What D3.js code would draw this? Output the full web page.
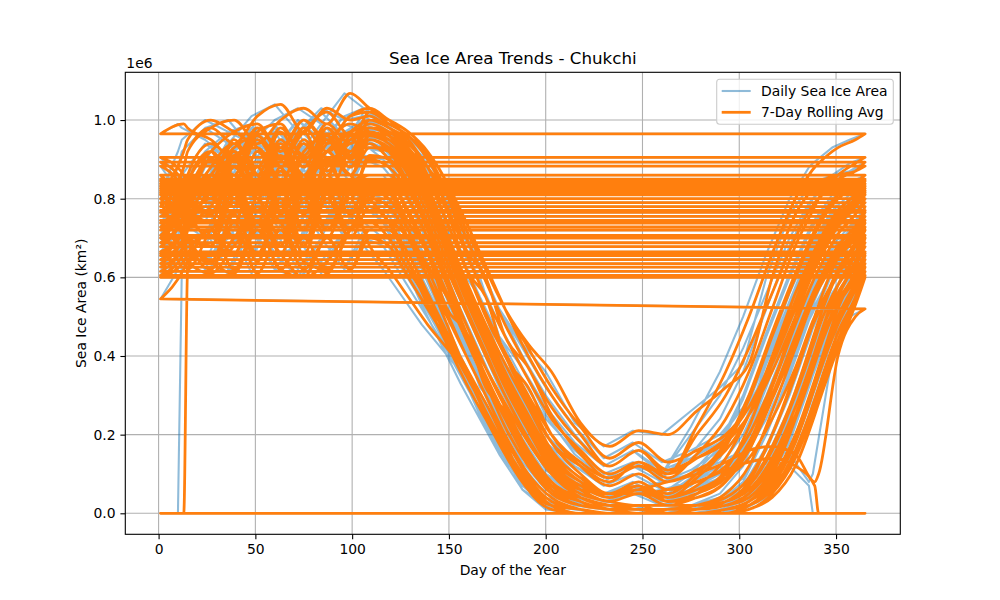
<!DOCTYPE html>
<html>
<head>
<meta charset="utf-8">
<script src="https://cdn.jsdelivr.net/npm/d3@7"></script>
<style>
  body { margin: 0; background: #fff; }
  text { font-family: "DejaVu Sans", sans-serif; fill: #000; }
</style>
</head>
<body>
<svg id="chart" width="1000" height="600"></svg>
<script>
// day-of-year sample points (same grid for every year)
const knotDays = [1, 10, 12, 24, 36, 48, 60, 72, 84, 96, 106,
  116, 126, 136, 146, 156, 166, 176, 188, 200,
  215, 230, 245, 260,
  275, 290, 302, 314, 326, 336, 338, 348, 357, 365];

const years = [1983, 1984, 1985, 1986, 1987, 1988, 1989, 1990, 1991, 1992,
  1993, 1994, 1995, 1996, 1997, 1998, 1999, 2000, 2001, 2002,
  2003, 2004, 2005, 2006, 2007, 2008, 2009, 2010, 2011, 2012,
  2013, 2014, 2015, 2016, 2017, 2018, 2019, 2020, 2021, 2022];

// daily sea ice area, units of 1e6 km², one row per year
const dailyArea = [
  [0.80, 0.76, 0.78, 0.90, 0.84, 0.95, 0.88, 0.97, 0.86, 0.96, 0.97, 0.95, 0.90, 0.82, 0.70, 0.58, 0.47, 0.36, 0.25, 0.15, 0.08, 0.04, 0.07, 0.03, 0.04, 0.08, 0.17, 0.32, 0.50, 0.63, 0.65, 0.74, 0.80, 0.845],
  [0.845, 0.78, 0.80, 0.76, 0.90, 0.80, 0.93, 0.82, 0.95, 0.86, 0.95, 0.92, 0.84, 0.72, 0.58, 0.46, 0.34, 0.24, 0.13, 0.06, 0.03, 0.01, 0.02, 0.0, 0.01, 0.03, 0.08, 0.20, 0.36, 0.50, 0.53, 0.65, 0.72, 0.78],
  [0.78, 0.88, 0.92, 0.98, 1.0, 0.93, 0.90, 0.97, 1.02, 0.96, 0.99, 0.97, 0.93, 0.86, 0.74, 0.62, 0.50, 0.40, 0.28, 0.18, 0.12, 0.08, 0.13, 0.10, 0.20, 0.30, 0.42, 0.56, 0.70, 0.79, 0.80, 0.85, 0.87, 0.893],
  [0.893, 0.84, 0.80, 0.76, 0.86, 0.70, 0.84, 0.68, 0.86, 0.76, 0.85, 0.82, 0.72, 0.60, 0.48, 0.36, 0.25, 0.15, 0.06, 0.02, 0.01, 0.0, 0.0, 0.0, 0.0, 0.01, 0.03, 0.10, 0.24, 0.40, 0.43, 0.58, 0.66, 0.72],
  [0.72, 0.80, 0.84, 0.92, 0.86, 0.96, 0.90, 0.98, 0.92, 0.97, 1.0, 0.99, 0.96, 0.91, 0.82, 0.72, 0.62, 0.52, 0.42, 0.32, 0.22, 0.14, 0.18, 0.13, 0.16, 0.20, 0.27, 0.38, 0.52, 0.63, 0.65, 0.74, 0.79, 0.826],
  [0.826, 0.72, 0.70, 0.64, 0.70, 0.78, 0.74, 0.64, 0.62, 0.72, 0.80, 0.82, 0.74, 0.66, 0.52, 0.46, 0.32, 0.26, 0.14, 0.07, 0.04, 0.02, 0.01, 0.01, 0.01, 0.02, 0.05, 0.12, 0.25, 0.38, 0.41, 0.53, 0.60, 0.665],
  [0.665, 0.72, 0.76, 0.74, 0.88, 0.80, 0.94, 0.84, 0.98, 0.90, 0.96, 0.95, 0.91, 0.83, 0.71, 0.59, 0.48, 0.38, 0.27, 0.16, 0.09, 0.05, 0.08, 0.04, 0.06, 0.10, 0.18, 0.32, 0.48, 0.60, 0.62, 0.71, 0.76, 0.80],
  [0.80, 0.88, 0.92, 0.98, 0.94, 1.01, 1.04, 0.97, 1.03, 1.0, 1.01, 0.98, 0.94, 0.88, 0.78, 0.66, 0.55, 0.45, 0.34, 0.24, 0.16, 0.10, 0.13, 0.09, 0.15, 0.24, 0.36, 0.52, 0.68, 0.78, 0.80, 0.86, 0.89, 0.905],
  [0.905, 0.86, 0.82, 0.92, 0.80, 0.88, 0.76, 0.86, 0.72, 0.80, 0.68, 0.62, 0.55, 0.48, 0.42, 0.36, 0.28, 0.18, 0.06, 0.01, 0.0, 0.0, 0.0, 0.01, 0.02, 0.05, 0.12, 0.26, 0.42, 0.55, 0.57, 0.66, 0.71, 0.755],
  [0.755, 0.82, 0.86, 0.80, 0.91, 0.83, 0.94, 0.85, 0.95, 0.88, 0.96, 0.94, 0.89, 0.80, 0.68, 0.56, 0.45, 0.34, 0.22, 0.12, 0.06, 0.03, 0.05, 0.04, 0.07, 0.14, 0.25, 0.40, 0.56, 0.67, 0.69, 0.77, 0.81, 0.838],
  [0.838, 0.78, 0.74, 0.82, 0.70, 0.78, 0.66, 0.80, 0.70, 0.82, 0.84, 0.84, 0.76, 0.66, 0.55, 0.44, 0.33, 0.22, 0.12, 0.05, 0.02, 0.01, 0.0, 0.0, 0.0, 0.01, 0.03, 0.09, 0.20, 0.34, 0.37, 0.52, 0.62, 0.70],
  [0.70, 0.78, 0.82, 0.86, 0.94, 0.88, 0.98, 0.91, 0.99, 0.94, 1.02, 1.0, 0.97, 0.92, 0.84, 0.74, 0.63, 0.52, 0.40, 0.30, 0.20, 0.12, 0.16, 0.11, 0.14, 0.18, 0.25, 0.36, 0.50, 0.62, 0.64, 0.73, 0.78, 0.815],
  [0.815, 0.92, 0.95, 1.0, 0.97, 0.94, 1.0, 1.03, 0.99, 1.068, 1.03, 1.0, 0.95, 0.86, 0.74, 0.62, 0.51, 0.41, 0.30, 0.20, 0.13, 0.09, 0.12, 0.10, 0.22, 0.36, 0.50, 0.66, 0.80, 0.88, 0.89, 0.93, 0.95, 0.965],
  [0.965, 0.99, 0.98, 0.95, 0.90, 0.97, 0.99, 0.90, 0.96, 0.90, 0.94, 0.90, 0.83, 0.72, 0.60, 0.48, 0.37, 0.27, 0.16, 0.08, 0.04, 0.02, 0.01, 0.01, 0.02, 0.04, 0.09, 0.20, 0.35, 0.49, 0.51, 0.62, 0.69, 0.745],
  [0.745, 0.68, 0.72, 0.78, 0.88, 0.80, 0.91, 0.82, 0.92, 0.86, 0.93, 0.93, 0.88, 0.79, 0.67, 0.55, 0.44, 0.33, 0.22, 0.12, 0.07, 0.04, 0.06, 0.05, 0.10, 0.18, 0.30, 0.46, 0.61, 0.72, 0.74, 0.81, 0.84, 0.86],
  [0.86, 0.76, 0.70, 0.62, 0.74, 0.61, 0.72, 0.62, 0.70, 0.62, 0.70, 0.68, 0.60, 0.52, 0.44, 0.35, 0.26, 0.17, 0.08, 0.02, 0.01, 0.0, 0.0, 0.0, 0.0, 0.0, 0.02, 0.07, 0.18, 0.32, 0.35, 0.48, 0.57, 0.635],
  [0.635, 0.70, 0.76, 0.88, 0.94, 0.86, 0.82, 0.92, 0.96, 0.90, 0.98, 0.97, 0.93, 0.84, 0.77, 0.62, 0.55, 0.40, 0.32, 0.20, 0.12, 0.07, 0.10, 0.06, 0.08, 0.12, 0.20, 0.33, 0.48, 0.60, 0.62, 0.71, 0.76, 0.79],
  [0.79, 0.72, 0.74, 0.70, 0.86, 0.74, 0.88, 0.72, 0.90, 0.80, 0.90, 0.88, 0.82, 0.73, 0.62, 0.51, 0.40, 0.30, 0.19, 0.10, 0.04, 0.02, 0.01, 0.01, 0.01, 0.02, 0.04, 0.11, 0.24, 0.38, 0.41, 0.55, 0.64, 0.707],
  [0.707, 0.80, 0.86, 0.94, 0.90, 0.98, 0.93, 1.0, 0.95, 1.01, 1.03, 1.0, 0.97, 0.92, 0.84, 0.72, 0.62, 0.52, 0.43, 0.36, 0.23, 0.17, 0.21, 0.20, 0.26, 0.32, 0.38, 0.60, 0.76, 0.83, 0.84, 0.86, 0.87, 0.883],
  [0.883, 0.82, 0.78, 0.70, 0.82, 0.70, 0.80, 0.68, 0.82, 0.72, 0.82, 0.80, 0.72, 0.62, 0.51, 0.40, 0.30, 0.20, 0.10, 0.04, 0.01, 0.0, 0.0, 0.0, 0.01, 0.02, 0.05, 0.13, 0.27, 0.41, 0.44, 0.58, 0.66, 0.728],
  [0.728, 0.82, 0.86, 0.84, 0.95, 0.86, 0.97, 0.88, 0.98, 0.91, 0.98, 0.96, 0.91, 0.82, 0.70, 0.58, 0.46, 0.35, 0.24, 0.13, 0.06, 0.03, 0.05, 0.02, 0.05, 0.11, 0.22, 0.38, 0.54, 0.65, 0.67, 0.75, 0.79, 0.82],
  [0.82, 0.70, 0.64, 0.61, 0.68, 0.74, 0.66, 0.60, 0.64, 0.72, 0.74, 0.70, 0.62, 0.54, 0.45, 0.36, 0.26, 0.16, 0.07, 0.02, 0.01, 0.0, 0.0, 0.0, 0.0, 0.01, 0.02, 0.08, 0.19, 0.33, 0.36, 0.50, 0.59, 0.655],
  [0.655, 0.72, 0.76, 0.86, 0.78, 0.92, 0.84, 0.94, 0.86, 0.95, 0.96, 0.94, 0.88, 0.79, 0.67, 0.55, 0.44, 0.33, 0.22, 0.12, 0.07, 0.04, 0.06, 0.03, 0.05, 0.09, 0.17, 0.30, 0.45, 0.57, 0.59, 0.68, 0.73, 0.77],
  [0.77, 0.70, 0.66, 0.64, 0.76, 0.66, 0.78, 0.68, 0.80, 0.72, 0.84, 0.84, 0.77, 0.67, 0.56, 0.45, 0.35, 0.25, 0.15, 0.07, 0.03, 0.01, 0.0, 0.0, 0.0, 0.01, 0.02, 0.06, 0.15, 0.28, 0.31, 0.44, 0.53, 0.60],
  [0.60, 0.64, 0.66, 0.72, 0.62, 0.74, 0.62, 0.70, 0.61, 0.72, 0.74, 0.74, 0.70, 0.63, 0.55, 0.46, 0.37, 0.28, 0.18, 0.10, 0.06, 0.05, 0.06, 0.08, 0.10, 0.13, 0.16, 0.17, 0.15, 0.08, 0.10, 0.40, 0.50, 0.52],
  [0.545, 0.62, 0.64, 0.72, 0.66, 0.80, 0.70, 0.84, 0.72, 0.84, 0.86, 0.86, 0.80, 0.70, 0.58, 0.46, 0.35, 0.25, 0.14, 0.06, 0.02, 0.01, 0.0, 0.0, 0.01, 0.03, 0.07, 0.16, 0.30, 0.44, 0.47, 0.58, 0.64, 0.688],
  [0.688, 0.76, 0.80, 0.84, 0.94, 0.86, 0.97, 0.88, 0.98, 0.92, 1.0, 0.98, 0.95, 0.88, 0.81, 0.67, 0.60, 0.45, 0.37, 0.25, 0.15, 0.09, 0.12, 0.08, 0.11, 0.16, 0.25, 0.39, 0.54, 0.66, 0.68, 0.76, 0.80, 0.832],
  [0.832, 0.76, 0.78, 0.84, 0.88, 0.80, 0.74, 0.82, 0.90, 0.86, 0.80, 0.74, 0.64, 0.53, 0.43, 0.33, 0.24, 0.15, 0.06, 0.02, 0.0, 0.0, 0.0, 0.0, 0.0, 0.0, 0.01, 0.05, 0.14, 0.27, 0.30, 0.44, 0.55, 0.626],
  [0.626, 0.68, 0.72, 0.84, 0.78, 0.92, 0.84, 0.95, 0.87, 0.95, 0.97, 0.95, 0.90, 0.81, 0.69, 0.57, 0.46, 0.35, 0.23, 0.13, 0.06, 0.03, 0.05, 0.02, 0.04, 0.08, 0.16, 0.29, 0.44, 0.56, 0.58, 0.67, 0.72, 0.765],
  [0.765, 0.82, 0.84, 0.82, 0.92, 0.84, 0.95, 0.86, 0.96, 0.88, 0.95, 0.93, 0.88, 0.79, 0.68, 0.56, 0.45, 0.34, 0.23, 0.13, 0.07, 0.05, 0.05, 0.06, 0.08, 0.11, 0.13, 0.14, 0.12, 0.07, 0.0, 0.0, 0.0, 0.0],
  [0.0, 0.0, 0.62, 0.72, 0.66, 0.78, 0.68, 0.82, 0.72, 0.82, 0.86, 0.86, 0.80, 0.70, 0.59, 0.48, 0.37, 0.27, 0.16, 0.08, 0.03, 0.01, 0.01, 0.0, 0.01, 0.03, 0.07, 0.17, 0.31, 0.46, 0.49, 0.61, 0.68, 0.738],
  [0.738, 0.80, 0.84, 0.92, 0.97, 0.99, 0.90, 0.86, 0.94, 0.99, 0.97, 0.96, 0.92, 0.85, 0.74, 0.62, 0.51, 0.40, 0.29, 0.18, 0.10, 0.05, 0.08, 0.04, 0.09, 0.17, 0.29, 0.45, 0.60, 0.71, 0.73, 0.80, 0.83, 0.85],
  [0.85, 0.74, 0.70, 0.64, 0.61, 0.72, 0.62, 0.60, 0.70, 0.62, 0.72, 0.72, 0.64, 0.55, 0.46, 0.37, 0.28, 0.19, 0.09, 0.03, 0.01, 0.0, 0.0, 0.0, 0.0, 0.0, 0.02, 0.06, 0.16, 0.29, 0.32, 0.46, 0.55, 0.615],
  [0.615, 0.68, 0.72, 0.80, 0.74, 0.88, 0.78, 0.90, 0.80, 0.92, 0.93, 0.92, 0.86, 0.76, 0.64, 0.52, 0.41, 0.30, 0.19, 0.10, 0.05, 0.03, 0.02, 0.02, 0.02, 0.03, 0.06, 0.14, 0.27, 0.41, 0.44, 0.56, 0.63, 0.678],
  [0.678, 0.76, 0.80, 0.90, 0.86, 0.98, 0.92, 1.0, 0.94, 1.01, 1.02, 0.99, 0.96, 0.90, 0.81, 0.70, 0.59, 0.48, 0.37, 0.27, 0.18, 0.12, 0.16, 0.10, 0.14, 0.19, 0.27, 0.39, 0.53, 0.64, 0.66, 0.74, 0.78, 0.81],
  [0.81, 0.74, 0.70, 0.68, 0.80, 0.70, 0.82, 0.72, 0.86, 0.76, 0.80, 0.78, 0.70, 0.60, 0.50, 0.40, 0.30, 0.20, 0.10, 0.04, 0.01, 0.0, 0.0, 0.0, 0.0, 0.01, 0.03, 0.08, 0.19, 0.32, 0.35, 0.49, 0.58, 0.645],
  [0.645, 0.70, 0.74, 0.84, 0.91, 0.93, 0.84, 0.80, 0.88, 0.94, 0.95, 0.93, 0.87, 0.78, 0.66, 0.54, 0.43, 0.32, 0.21, 0.11, 0.06, 0.03, 0.05, 0.04, 0.06, 0.09, 0.14, 0.24, 0.37, 0.50, 0.52, 0.61, 0.66, 0.70],
  [0.70, 0.64, 0.62, 0.72, 0.76, 0.64, 0.78, 0.66, 0.80, 0.70, 0.78, 0.74, 0.66, 0.56, 0.46, 0.36, 0.26, 0.17, 0.08, 0.02, 0.0, 0.0, 0.0, 0.0, 0.0, 0.0, 0.01, 0.04, 0.12, 0.25, 0.28, 0.42, 0.53, 0.605],
  [0.605, 0.66, 0.70, 0.70, 0.82, 0.74, 0.87, 0.76, 0.89, 0.80, 0.91, 0.90, 0.84, 0.74, 0.62, 0.51, 0.40, 0.30, 0.19, 0.10, 0.04, 0.02, 0.02, 0.02, 0.02, 0.03, 0.06, 0.13, 0.25, 0.39, 0.42, 0.54, 0.61, 0.66],
  [0.66, 0.72, 0.76, 0.86, 0.93, 0.96, 0.88, 0.84, 0.92, 0.97, 0.98, 0.96, 0.91, 0.82, 0.70, 0.58, 0.47, 0.36, 0.25, 0.14, 0.08, 0.05, 0.07, 0.04, 0.06, 0.10, 0.17, 0.29, 0.43, 0.55, 0.57, 0.65, 0.70, 0.74]
];

const xTicks = [0, 50, 100, 150, 200, 250, 300, 350];
const yTicks = [0, 0.2, 0.4, 0.6, 0.8, 1.0];
const legendLabels = ["Daily Sea Ice Area", "7-Day Rolling Avg"];
const rollingLag = 3; // trailing 7-day window lags the daily values

const width = 1000, height = 600;
const margin = {top: 72.3, right: 99.7, bottom: 65.7, left: 125.3};
const blue = "#1f77b4", orange = "#ff7f0e";

const svg = d3.select("#chart");

// matplotlib style 5% padding around the data
const xExt = d3.extent(knotDays);
const allValues = dailyArea.flat();
const yExt = [d3.min(allValues), d3.max(allValues)];
const xPad = (xExt[1] - xExt[0]) * 0.05;
const yPad = (yExt[1] - yExt[0]) * 0.05;

const x = d3.scaleLinear()
    .domain([xExt[0] - xPad, xExt[1] + xPad])
    .range([margin.left, width - margin.right]);
const y = d3.scaleLinear()
    .domain([yExt[0] - yPad, yExt[1] + yPad])
    .range([height - margin.bottom, margin.top]);

svg.append("defs").append("clipPath").attr("id", "plot-clip")
  .append("rect")
    .attr("x", margin.left).attr("y", margin.top)
    .attr("width", width - margin.left - margin.right)
    .attr("height", height - margin.top - margin.bottom);

// grid
const grid = svg.append("g").attr("stroke", "#b0b0b0").attr("stroke-width", 1.1);
grid.selectAll(".gx").data(xTicks).join("line")
    .attr("x1", d => x(d)).attr("x2", d => x(d))
    .attr("y1", margin.top).attr("y2", height - margin.bottom);
grid.selectAll(".gy").data(yTicks).join("line")
    .attr("y1", d => y(d)).attr("y2", d => y(d))
    .attr("x1", margin.left).attr("x2", width - margin.right);

const plot = svg.append("g").attr("clip-path", "url(#plot-clip)");

// daily values: one continuous line through all years
const dailyPoints = dailyArea.flatMap(row => row.map((v, i) => [knotDays[i], v]));
const dailyLine = d3.line().x(d => x(d[0])).y(d => y(d[1]));
plot.append("path")
    .attr("d", dailyLine(dailyPoints))
    .attr("fill", "none")
    .attr("stroke", blue)
    .attr("stroke-opacity", 0.5)
    .attr("stroke-width", 2.08)
    .attr("stroke-linejoin", "round");

// rolling average: smooth within each year, joined straight across year ends
const rollLine = d3.line().curve(d3.curveMonotoneX).x(d => x(d[0])).y(d => y(d[1]));
const rollPath = dailyArea.map(row => {
    const pts = row.map((v, i) => [i === 0 ? knotDays[i] : Math.min(knotDays[i] + rollingLag, xExt[1]), v]);
    return rollLine(pts);
}).map((p, i) => i ? "L" + p.slice(1) : p).join("");

plot.append("path")
    .attr("d", rollPath)
    .attr("fill", "none")
    .attr("stroke", orange)
    .attr("stroke-width", 2.78)
    .attr("stroke-linejoin", "round");

// frame
svg.append("rect")
    .attr("x", margin.left).attr("y", margin.top)
    .attr("width", width - margin.left - margin.right)
    .attr("height", height - margin.top - margin.bottom)
    .attr("fill", "none").attr("stroke", "#000").attr("stroke-width", 1.1);

// axes
const xAxis = svg.append("g")
    .attr("transform", `translate(0,${height - margin.bottom})`)
    .call(d3.axisBottom(x).tickValues(xTicks).tickSize(4.9).tickPadding(4.9).tickSizeOuter(0));
const yAxis = svg.append("g")
    .attr("transform", `translate(${margin.left},0)`)
    .call(d3.axisLeft(y).tickValues(yTicks).tickFormat(d3.format(".1f")).tickSize(4.9).tickPadding(4.9).tickSizeOuter(0));

[xAxis, yAxis].forEach(g => {
    g.select(".domain").remove();
    g.selectAll(".tick line").attr("stroke", "#000").attr("stroke-width", 1.1);
    g.selectAll(".tick text")
        .attr("font-family", "DejaVu Sans, sans-serif")
        .attr("font-size", 13.9)
        .attr("fill", "#000");
});

svg.append("text")
    .attr("x", margin.left + 1).attr("y", margin.top - 4.5)
    .attr("font-size", 13.9)
    .text("1e6");

svg.append("text")
    .attr("x", (margin.left + width - margin.right) / 2).attr("y", margin.top - 8.3)
    .attr("text-anchor", "middle")
    .attr("font-size", 16.7)
    .text("Sea Ice Area Trends - Chukchi");

svg.append("text")
    .attr("x", (margin.left + width - margin.right) / 2).attr("y", 575)
    .attr("text-anchor", "middle")
    .attr("font-size", 13.9)
    .text("Day of the Year");

svg.append("text")
    .attr("transform", `translate(85.5,${(margin.top + height - margin.bottom) / 2}) rotate(-90)`)
    .attr("text-anchor", "middle")
    .attr("font-size", 13.9)
    .text("Sea Ice Area (km²)");

// legend
const legend = svg.append("g");
legend.append("rect")
    .attr("x", 716.7).attr("y", 79.3)
    .attr("width", 176.6).attr("height", 45)
    .attr("rx", 3)
    .attr("fill", "#fff").attr("fill-opacity", 0.8)
    .attr("stroke", "#cccccc").attr("stroke-width", 1.1);

const legendStyles = [
    {color: blue, opacity: 0.5, width: 2.08},
    {color: orange, opacity: 1, width: 2.78}
];
legendLabels.forEach((label, i) => {
    const ly = 91 + i * 21.3;
    legend.append("line")
        .attr("x1", 721.7).attr("x2", 750.7)
        .attr("y1", ly).attr("y2", ly)
        .attr("stroke", legendStyles[i].color)
        .attr("stroke-opacity", legendStyles[i].opacity)
        .attr("stroke-width", legendStyles[i].width);
    legend.append("text")
        .attr("x", 761).attr("y", ly + 5)
        .attr("font-size", 13.9)
        .text(label);
});
</script>
</body>
</html>
